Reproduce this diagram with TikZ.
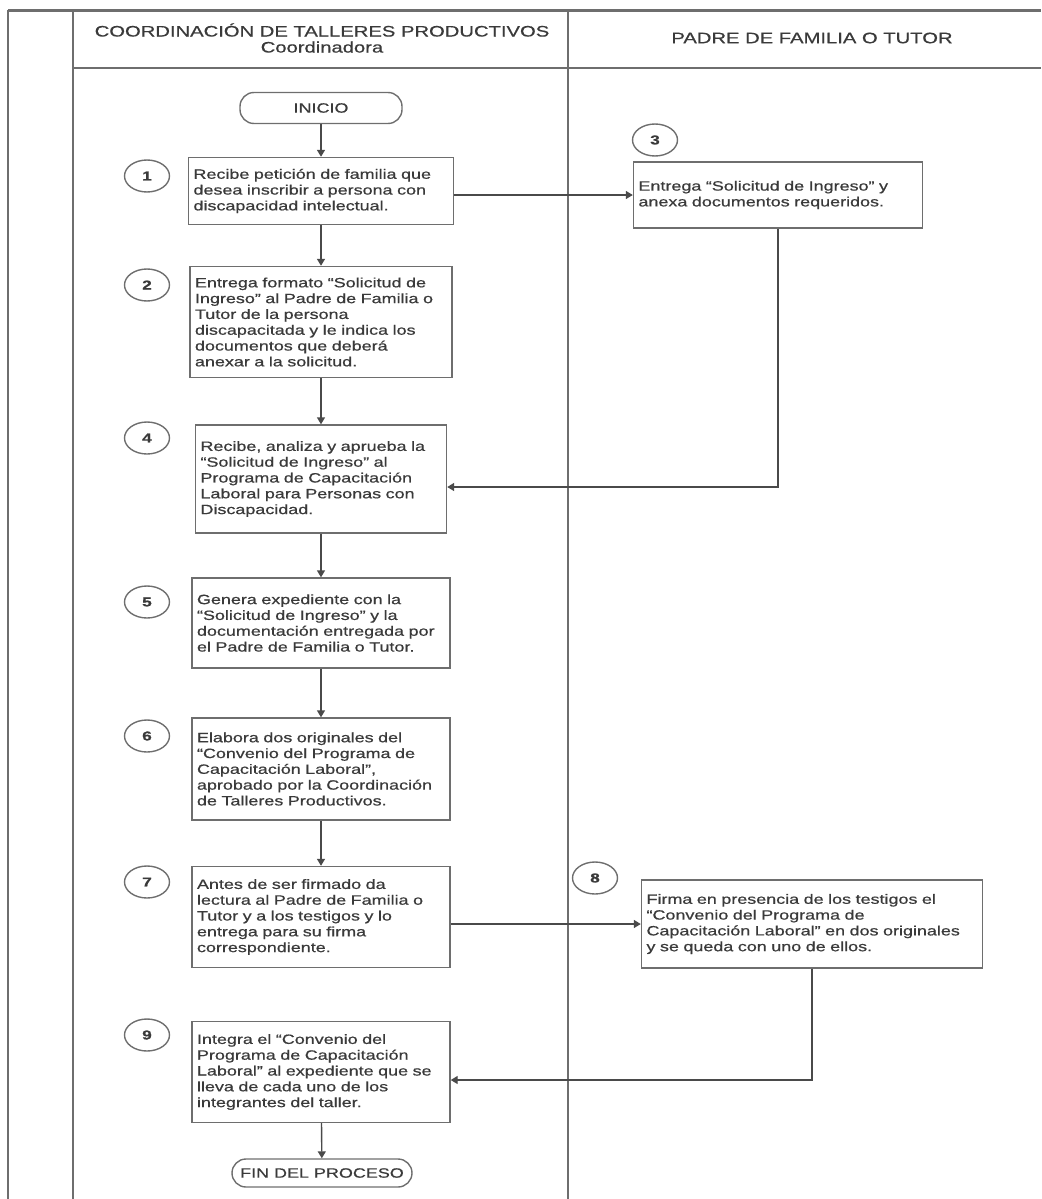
\documentclass[tikz,border=0pt]{standalone}
\usepackage{fontspec}
\setmainfont{Liberation Sans}
\newfontfamily\ancha[FakeStretch=1.33,FakeBold=0.7]{Liberation Sans}
\usetikzlibrary{arrows.meta,positioning,shapes.geometric}
\definecolor{linea}{HTML}{4A4A4A}
\definecolor{marco}{HTML}{6E6E6E}
\definecolor{texto}{HTML}{3A3A3A}

\begin{document}
\begin{tikzpicture}[x=0.5pt,y=-0.5pt,
  paso/.style={draw=marco,line width=0.7pt,align=left,inner xsep=2.5pt,text=texto,
    font=\ancha\fontsize{6.75pt}{7.9pt}\selectfont},
  num/.style={draw=marco,line width=0.7pt,ellipse,minimum width=22.5pt,minimum height=16pt,
    inner sep=0pt,text=texto,font=\ancha\bfseries\fontsize{6.5pt}{7pt}\selectfont},
  term/.style={draw=marco,line width=0.7pt,rounded corners=7pt,inner sep=1pt,text=texto,
    font=\ancha\fontsize{6.75pt}{7.9pt}\selectfont},
  cab/.style={align=center,text=texto,font=\ancha\fontsize{7.6pt}{8pt}\selectfont},
  flecha/.style={draw=linea,line width=0.7pt,-{Triangle[length=3.5pt,width=4pt]}}]
\useasboundingbox (0,0) rectangle (1041,1199);
% frame and lanes
\draw[marco,line width=1.5pt] (8,10) -- (1041,10);
\draw[marco,line width=1pt] (8,10) -- (8,1199);
\draw[marco,line width=1pt] (73,10) -- (73,1199);
\draw[marco,line width=1pt] (73,68) -- (1041,68);
\draw[marco,line width=0.8pt] (568,10) -- (568,1199);
\node[cab] (carril1) at (322,38) {COORDINACIÓN DE TALLERES PRODUCTIVOS\\Coordinadora};
\node[cab] (carril2) at (812,38) {PADRE DE FAMILIA O TUTOR};
% steps
\node[term,minimum width=81pt,minimum height=15.5pt] (inicio) at (321,108) {INICIO};
\node[paso,text width=127.5pt,minimum height=33.5pt] (p1) at (321,191)
  {Recibe petición de familia que\\desea inscribir a persona con\\discapacidad intelectual.};
\node[paso,text width=126pt,minimum height=55.5pt] (p2) at (321,322)
  {Entrega formato “Solicitud de\\Ingreso” al Padre de Familia o\\Tutor de la persona\\discapacitada y le indica los\\documentos que deberá\\anexar a la solicitud.};
\node[paso,text width=139.5pt,minimum height=33pt] (p3) at (778,195)
  {Entrega “Solicitud de Ingreso” y\\anexa documentos requeridos.};
\node[paso,text width=120.5pt,minimum height=54pt] (p4) at (321,479)
  {Recibe, analiza y aprueba la\\“Solicitud de Ingreso” al\\Programa de Capacitación\\Laboral para Personas con\\Discapacidad.};
\node[paso,text width=124pt,minimum height=45pt] (p5) at (321,623)
  {Genera expediente con la\\“Solicitud de Ingreso” y la\\documentación entregada por\\el Padre de Familia o Tutor.};
\node[paso,text width=124pt,minimum height=51pt] (p6) at (321,769)
  {Elabora dos originales del\\“Convenio del Programa de\\Capacitación Laboral”,\\aprobado por la Coordinación\\de Talleres Productivos.};
\node[paso,text width=124pt,minimum height=50.5pt] (p7) at (321,917)
  {Antes de ser firmado da\\lectura al Padre de Familia o\\Tutor y a los testigos y lo\\entrega para su firma\\correspondiente.};
\node[paso,text width=165.5pt,minimum height=44pt] (p8) at (812,924)
  {Firma en presencia de los testigos el\\“Convenio del Programa de\\Capacitación Laboral” en dos originales\\y se queda con uno de ellos.};
\node[paso,text width=124pt,minimum height=50.5pt] (p9) at (321,1072)
  {Integra el “Convenio del\\Programa de Capacitación\\Laboral” al expediente que se\\lleva de cada uno de los\\integrantes del taller.};
\node[term,minimum width=90pt,minimum height=14pt] (fin) at (322,1173) {FIN DEL PROCESO};
% step numbers
\node[num] (n1) at (147,176) {1};
\node[num] (n2) at (147,285) {2};
\node[num] (n3) at (655,140) {3};
\node[num] (n4) at (147,438) {4};
\node[num] (n5) at (147,602) {5};
\node[num] (n6) at (147,736) {6};
\node[num] (n7) at (147,882) {7};
\node[num] (n8) at (595,878) {8};
\node[num] (n9) at (147,1035) {9};
% connectors
\draw[flecha] (inicio) -- (p1);
\draw[flecha] (p1) -- (p2);
\draw[flecha] (p3.west -| p1.east) -- (p3.west);
\draw[flecha] (p3.south) |- ([yshift=-4pt]p4.east);
\draw[flecha] (p2) -- (p4);
\draw[flecha] (p4) -- (p5);
\draw[flecha] (p5) -- (p6);
\draw[flecha] (p6) -- (p7);
\draw[flecha] (p8.west -| p7.east) -- (p8.west);
\draw[flecha] (p8.south) |- ([yshift=-4pt]p9.east);
\draw[flecha] (p9) -- (fin);
\end{tikzpicture}
\end{document}
